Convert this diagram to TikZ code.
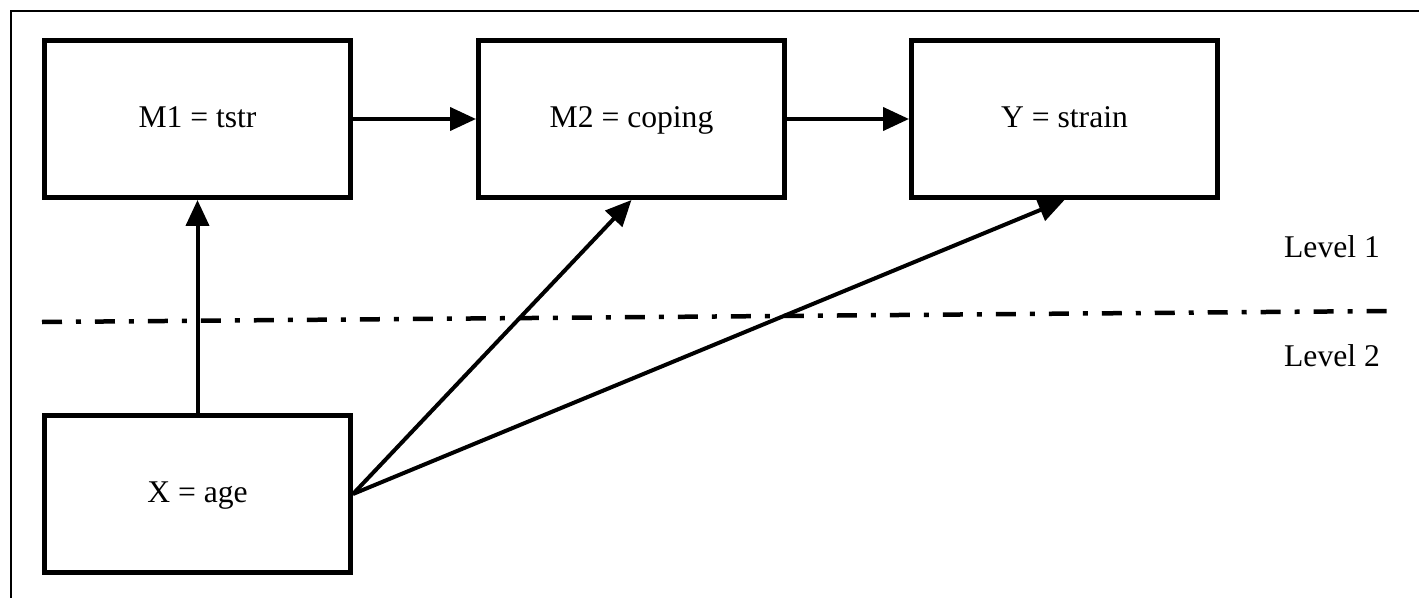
\documentclass[tikz,border=0pt]{standalone}
\usepackage{fontspec}
\setmainfont{Liberation Serif}
\usetikzlibrary{arrows.meta}
\begin{document}
\begin{tikzpicture}[x=0.02cm,y=-0.02cm,
    box/.style={draw,line width=0.09cm,minimum width=6.13cm,minimum height=3.15cm,text height=1em,text depth=0.05em,font=\fontsize{18}{21}\selectfont},
    path/.style={line width=0.08cm,-{Triangle[length=0.52cm,width=0.46cm]}},
    lvl/.style={font=\fontsize{18}{21}\selectfont}]
            \useasboundingbox (0,0) rectangle (1419,598);
            \draw[line width=0.045cm] (11,598) -- (11,11) -- (1419,11);
            \node[box] (m1) at (197.5,119) {M1 = tstr};
            \node[box] (m2) at (631.5,119) {M2 = coping};
            \node[box] (y) at (1064.5,119) {Y = strain};
            \node[box] (x) at (197.5,494) {X = age};
            \node[lvl] (l1) at (1332,247) {Level 1};
            \node[lvl] (l2) at (1332,356) {Level 2};
            \coordinate (sl) at (42,322);
            \coordinate (sr) at (1388,311);
            \draw[line width=0.09cm,dash pattern=on 0.4cm off 0.28cm on 0.1cm off 0.28cm] (sl) -- (sr);
            \draw[path] (m1) -- (m2);
            \draw[path] (m2) -- (y);
            \draw[path] (x) -- (m1);
            \draw[path] (x.east) -- (m2.south);
            \draw[path] (x.east) -- (y.south);
        \end{tikzpicture}
\end{document}
